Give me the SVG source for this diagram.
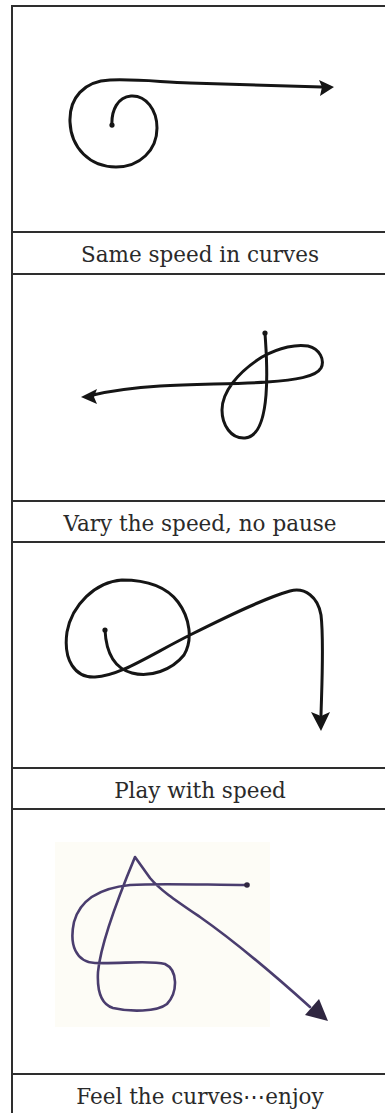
<svg xmlns="http://www.w3.org/2000/svg" width="385" height="1113" viewBox="0 0 385 1113">
<style>
.bg{fill:#ffffff}
.frame{stroke:#2e2e2e;stroke-width:2;fill:none}
.ink{fill:none;stroke:#151515;stroke-width:3;stroke-linecap:round;stroke-linejoin:round}
.inkfill{fill:#151515}
.purple{fill:none;stroke:#4a3d6e;stroke-width:2.6;stroke-linecap:round;stroke-linejoin:round}
.purplefill{fill:#2f2640}
.label{font-family:"DejaVu Serif","Liberation Serif",serif;font-size:21.5px;fill:#2a2a2a;text-anchor:middle}
</style>
<rect class="bg" x="0" y="0" width="385" height="1113"/>
<g id="frame">
<line class="frame" x1="12" y1="5" x2="12" y2="1113"/>
<line class="frame" x1="11" y1="6" x2="385" y2="6"/>
<line class="frame" x1="12" y1="232" x2="385" y2="232"/>
<line class="frame" x1="12" y1="274" x2="385" y2="274"/>
<line class="frame" x1="12" y1="501" x2="385" y2="501"/>
<line class="frame" x1="12" y1="542" x2="385" y2="542"/>
<line class="frame" x1="12" y1="768" x2="385" y2="768"/>
<line class="frame" x1="12" y1="809" x2="385" y2="809"/>
<line class="frame" x1="12" y1="1074" x2="385" y2="1074"/>
</g>
<g id="panel1">
<path class="ink" d="M112,126 C111,110 118,97 131,96 C146,95 157,110 157,128 C157,150 140,167 116,167 C90,167 71,148 70,122 C69,98 84,81 110,80 C140,79 160,82 190,83 L322,87"/>
<circle class="inkfill" cx="112" cy="125" r="2.6"/>
<polygon class="inkfill" points="334,87 319,80 322,87 320,96"/>
<text class="label" x="200" y="261.5">Same speed in curves</text>
</g>
<g id="panel2">
<path class="ink" d="M265,333 C266,350 268,370 266,395 C264,420 258,437 245,438 C231,439 222,425 222,410 C222,392 238,372 262,357 C280,347 297,344 308,346 C320,349 325,360 321,368 C316,377 295,380 267,382 C240,384 200,384 160,386 C130,388 110,391 93,395"/>
<circle class="inkfill" cx="265" cy="333" r="2.6"/>
<polygon class="inkfill" points="81,397 97,389 94,397 97,404"/>
<text class="label" x="200" y="530.5">Vary the speed, no pause</text>
</g>
<g id="panel3">
<path class="ink" d="M105,630 C106,650 113,668 132,673 C150,678 172,670 184,655 C193,640 190,618 178,602 C166,586 146,580 122,580 C95,582 72,605 67,632 C63,660 75,678 95,677 C120,676 150,655 190,635 C230,615 265,598 290,591 C305,587 318,597 321,615 C324,640 322,680 321,715"/>
<circle class="inkfill" cx="105" cy="630" r="2.6"/>
<polygon class="inkfill" points="321,731 311,712 321,716 330,712"/>
<text class="label" x="200" y="797.5">Play with speed</text>
</g>
<g id="panel4">
<rect x="55" y="842" width="215" height="185" fill="#fdfcf6"/>
<path class="purple" d="M247,885 C210,885 160,883 130,885 C100,888 80,900 74,922 C69,945 76,962 95,963 C120,964 150,960 165,964 C178,970 178,992 167,1004 C157,1012 130,1012 113,1008 C100,1004 97,990 98,972 C100,950 115,905 135,857 L150,878 C160,890 175,900 200,917 C230,938 260,962 310,1007"/>
<circle class="purplefill" cx="247" cy="885" r="2.8"/>
<polygon class="purplefill" points="328,1021 305,1015 319,999"/>
<text class="label" x="200" y="1103.5">Feel the curves⋯enjoy</text>
</g>
</svg>
